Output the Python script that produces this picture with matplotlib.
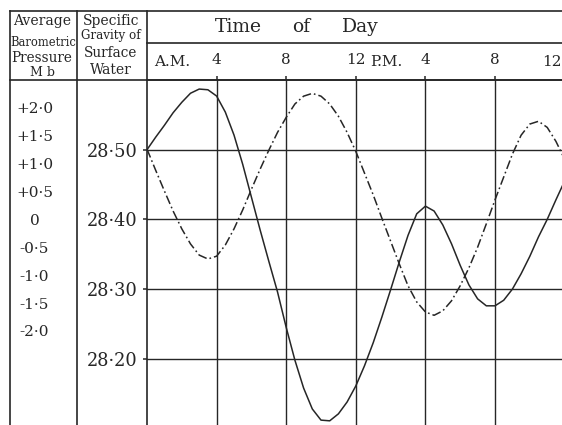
import numpy as np
import matplotlib
matplotlib.use("Agg")
import matplotlib.pyplot as plt
from matplotlib.lines import Line2D

# half-hourly readings over the day (hour 0 = midnight)
hours = np.arange(0, 24.5, 0.5)
gravity = [28.500, 28.518, 28.535, 28.553, 28.568, 28.581, 28.587, 28.586, 28.577,
           28.554, 28.521, 28.479, 28.432, 28.385, 28.340, 28.296, 28.245, 28.198,
           28.158, 28.128, 28.112, 28.111, 28.121, 28.138, 28.161, 28.190, 28.223,
           28.260, 28.299, 28.339, 28.377, 28.408, 28.419, 28.412, 28.392, 28.365,
           28.334, 28.306, 28.286, 28.276, 28.276, 28.284, 28.300, 28.322, 28.347,
           28.375, 28.400, 28.428, 28.455]
pressure = [1.26, 0.88, 0.51, 0.15, -0.17, -0.44, -0.64, -0.71, -0.66,
            -0.46, -0.17, 0.17, 0.54, 0.90, 1.24, 1.56, 1.83, 2.07,
            2.21, 2.26, 2.21, 2.07, 1.85, 1.56, 1.22, 0.83, 0.44,
            0.02, -0.39, -0.80, -1.19, -1.48, -1.66, -1.72, -1.64, -1.46,
            -1.19, -0.87, -0.50, -0.08, 0.35, 0.76, 1.17, 1.51, 1.71,
            1.76, 1.65, 1.40, 1.08]

sg_ticks = [28.20, 28.30, 28.40, 28.50]
sg_labels = ["28·20", "28·30", "28·40", "28·50"]
mb_ticks = [2.0, 1.5, 1.0, 0.5, 0.0, -0.5, -1.0, -1.5, -2.0]
mb_labels = ["+2·0", "+1·5", "+1·0", "+0·5", "0", "-0·5", "-1·0", "-1·5", "-2·0"]
hour_ticks = [4, 8, 12, 16, 20]
hour_labels = ["4", "8", "12", "4", "8"]

INK = "#262626"
W, H = 562, 425
plt.rcParams["font.family"] = ["DejaVu Serif"]
plt.rcParams["lines.scale_dashes"] = False

fig = plt.figure(figsize=(W / 100, H / 100), dpi=100)
fig.patch.set_facecolor("white")


def fx(px):
    return px / W


def fy(py):
    return 1 - py / H


# plotting area: SG scale, 1 mb of pressure drawn as 0.08 of SG
SG0, MB = 28.40, 0.08
ax = fig.add_axes([fx(147), 0, fx(562) - fx(147), fy(80)])
ax.set_xlim(0, 23.85)
ax.set_ylim(28.105, 28.600)
ax.set_yticks(sg_ticks)
ax.set_yticklabels(sg_labels, fontsize=12.8)
ax.tick_params(axis="y", direction="out", length=3, width=1.1, color=INK, pad=4,
               labelcolor=INK)
ax.xaxis.tick_top()
ax.set_xticks(hour_ticks)
ax.set_xticklabels(hour_labels, fontsize=11)
ax.tick_params(axis="x", direction="out", length=3, width=1.1, color=INK, pad=6,
               labelcolor=INK)
ax.grid(True, color=INK, lw=1.0)
for side in ("right", "bottom"):
    ax.spines[side].set_visible(False)
for side in ("left", "top"):
    ax.spines[side].set_color(INK)
    ax.spines[side].set_linewidth(1.2)

ax.plot(hours, gravity, color=INK, lw=1.1, solid_joinstyle="round")

ax2 = ax.twinx()
ax2.set_ylim((28.105 - SG0) / MB, (28.600 - SG0) / MB)
ax2.set_yticks(mb_ticks)
ax2.set_yticklabels(mb_labels, fontsize=11)
ax2.tick_params(axis="y", left=True, labelleft=True, right=False, labelright=False,
                length=0, pad=81, labelcolor=INK)
for t in ax2.get_yticklabels():
    t.set_ha("center")
for s in ax2.spines.values():
    s.set_visible(False)
ax2.plot(hours, pressure, color=INK, lw=1.1, dashes=(6.5, 2.2, 1.2, 2.2))

# table rules
rules = [((10, 562), (11, 11)), ((147, 562), (43, 43)), ((10, 562), (80, 80)),
         ((10, 10), (11, 425)), ((77, 77), (11, 425)), ((147, 147), (11, 80))]
for (x0, x1), (y0, y1) in rules:
    fig.add_artist(Line2D([fx(x0), fx(x1)], [fy(y0), fy(y1)], color=INK, lw=1.2))

# column headings
heads = [("Average", 42, 21, 10), ("Barometric", 43, 42, 8.3), ("Pressure", 42, 58, 9.8),
         ("M b", 42, 72, 9), ("Specific", 111, 21, 10), ("Gravity of", 111, 36, 8.6),
         ("Surface", 111, 53, 9.8), ("Water", 111, 70, 10)]
for s, x, y, size in heads:
    fig.text(fx(x), fy(y), s, fontsize=size, ha="center", va="center", color=INK)

for word, x in (("Time", 238), ("of", 301), ("Day", 360)):
    fig.text(fx(x), fy(27), word, fontsize=13.5, ha="center", va="center", color=INK)
fig.text(fx(172), fy(62), "A.M.", fontsize=11, ha="center", va="center", color=INK)
fig.text(fx(386), fy(62), "P.M.", fontsize=11, ha="center", va="center", color=INK)
fig.text(fx(562), fy(62), "12", fontsize=11, ha="right", va="center", color=INK)

fig.savefig("out.png", dpi=100, facecolor="white")
